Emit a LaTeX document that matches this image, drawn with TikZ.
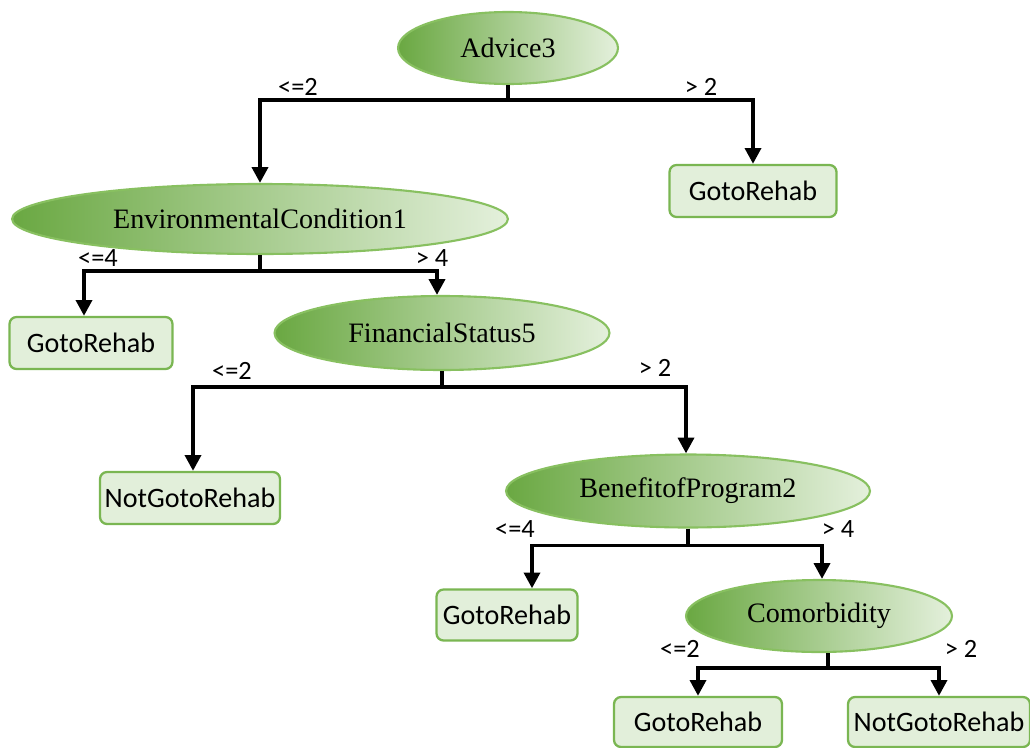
\documentclass[tikz,border=0pt]{standalone}
\usepackage{fontspec}
\setmainfont{Liberation Serif}
\newfontfamily\boxfont{Carlito}
\usetikzlibrary{shapes.geometric,arrows.meta}
\definecolor{splitdark}{RGB}{106,168,66}
\definecolor{splitmid}{RGB}{190,200,180}
\definecolor{splitlight}{RGB}{228,240,220}
\definecolor{splitline}{RGB}{136,192,96}
\definecolor{leaffill}{RGB}{226,239,218}
\definecolor{leafline}{RGB}{122,182,82}
\tikzset{
    splitnode/.style={
        ellipse, draw=splitline, line width=1.2pt, inner sep=0pt,
        left color=splitdark, middle color=splitmid, right color=splitlight,
        shading angle=90,
        font=\fontsize{16}{19}\selectfont
    },
    leafnode/.style={
        rectangle, rounded corners=4pt, draw=leafline, line width=1.3pt,
        fill=leaffill, inner sep=0pt,
        font=\boxfont\fontsize{16}{19}\selectfont
    },
    branch/.style={
        line width=2.2pt, black,
        -{Triangle[length=9pt,width=9pt]}
    },
    stem/.style={line width=2.2pt, black},
    edgelabel/.style={font=\boxfont\fontsize{15}{17}\selectfont}
}

\begin{document}
\begin{tikzpicture}[x=0.02cm,y=-0.02cm]
    \useasboundingbox (0,0) rectangle (1030,747);
    % splitting attributes
    \node[splitnode, minimum width=4.4cm, minimum height=1.44cm] (adv) at (508,48) {Advice3};
    \node[splitnode, minimum width=9.92cm, minimum height=1.4cm] (env) at (260,219) {EnvironmentalCondition1};
    \node[splitnode, minimum width=6.7cm, minimum height=1.48cm] (fin) at (442,333) {FinancialStatus5};
    \node[splitnode, minimum width=7.28cm, minimum height=1.46cm] (ben) at (688,491) {BenefitofProgram2};
    \node[splitnode, minimum width=5.32cm, minimum height=1.44cm] (com) at (819,616) {Comorbidity};
    % decisions
    \node[leafnode, minimum width=3.34cm, minimum height=1.04cm] (rehabA) at (753,191) {GotoRehab};
    \node[leafnode, minimum width=3.26cm, minimum height=1.04cm] (rehabB) at (91,343) {GotoRehab};
    \node[leafnode, minimum width=3.6cm, minimum height=1.04cm] (notA) at (190,498) {NotGotoRehab};
    \node[leafnode, minimum width=2.82cm, minimum height=1.02cm] (rehabC) at (507,615) {GotoRehab};
    \node[leafnode, minimum width=3.36cm, minimum height=1.0cm] (rehabD) at (698,722) {GotoRehab};
    \node[leafnode, minimum width=3.64cm, minimum height=1.0cm] (notB) at (939,722) {NotGotoRehab};

    \draw[stem] (adv.south) -- ++(0,15) coordinate (advj);
    \draw[branch] (advj) -| (env.north);
    \draw[branch] (advj) -| (rehabA.north);
    \draw[stem] (env.south) -- ++(0,16) coordinate (envj);
    \draw[branch] (envj) -| (rehabB.north -| 84,0);
    \draw[branch] (envj) -| (fin.north -| 437,0);
    \draw[stem] (fin.south) -- ++(0,16) coordinate (finj);
    \draw[branch] (finj) -| (notA.north -| 193,0);
    \draw[branch] (finj) -| (ben.north -| 686,0);
    \draw[stem] (ben.south) -- ++(0,17) coordinate (benj);
    \draw[branch] (benj) -| (rehabC.north -| 532,0);
    \draw[branch] (benj) -| (com.north -| 822,0);
    \draw[stem] (com.south -| 828,0) -- ++(0,15) coordinate (comj);
    \draw[branch] (comj) -| (rehabD.north);
    \draw[branch] (comj) -| (notB.north);

    % branch conditions
    \node[edgelabel] (la1) at (298,87) {<=2};
    \node[edgelabel] (lb1) at (701,87) {> 2};
    \node[edgelabel] (la2) at (98,258) {<=4};
    \node[edgelabel] (lb2) at (432,258) {> 4};
    \node[edgelabel] (la3) at (232,371) {<=2};
    \node[edgelabel] (lb3) at (655,368) {> 2};
    \node[edgelabel] (la4) at (515,529) {<=4};
    \node[edgelabel] (lb4) at (838,529) {> 4};
    \node[edgelabel] (la5) at (680,649) {<=2};
    \node[edgelabel] (lb5) at (961,649) {> 2};
\end{tikzpicture}
\end{document}
